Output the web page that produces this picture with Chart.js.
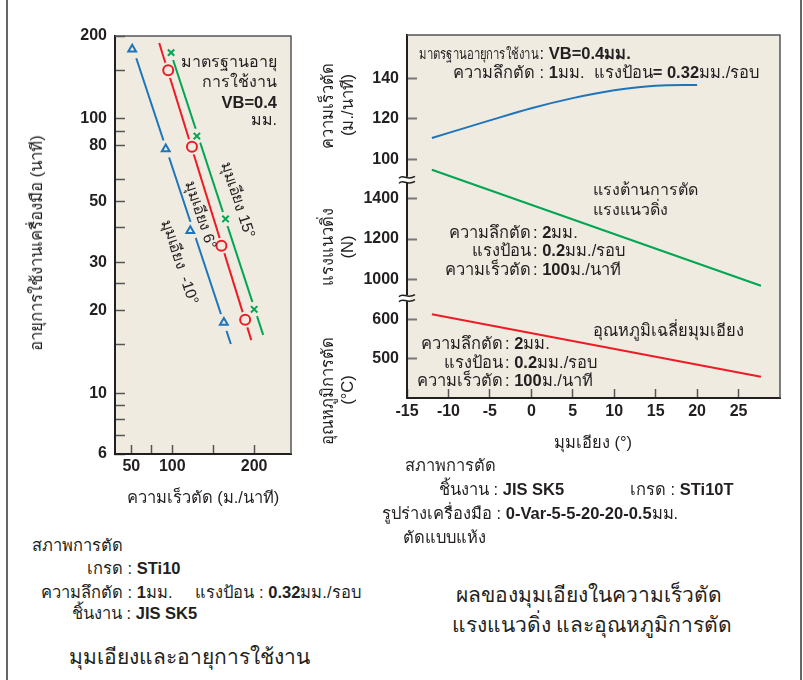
<!DOCTYPE html>
<html>
<head>
<meta charset="utf-8">
<script src="https://cdn.jsdelivr.net/npm/chart.js@4.4.1/dist/chart.umd.min.js"></script>
<style>
body{margin:0;background:#fff;width:803px;height:680px;position:relative;overflow:hidden;font-family:"Liberation Sans",Arial,sans-serif;color:#231f20}
#frame{position:absolute;left:6px;top:0;width:792px;height:680px;border-left:2px solid #666;border-right:2px solid #666}
.box{position:absolute}
.t{position:absolute;white-space:nowrap;font-size:16.5px;line-height:18px;transform:translateY(-50%)}
.c{transform:translate(-50%,-50%)}
.r{transform:translate(-100%,-50%)}
.v{transform:translate(-50%,-50%) rotate(-90deg)}
.s{transform:translate(-50%,-50%) rotate(71.7deg);font-size:15.5px}
.cap{font-size:21px;line-height:26px}
.narrow{display:inline-block;width:116px;font-size:14.5px;transform:scaleX(0.78);transform-origin:left center}
b{font-weight:bold;font-size:16.5px}
</style>
</head>
<body>
<div id="frame"></div>
<canvas id="lifeChart" class="box" width="300" height="510" style="left:0;top:0"></canvas>
<canvas id="rakeChart" class="box" width="500" height="460" style="left:300px;top:0"></canvas>

<!-- left chart texts -->
<div class="t v" style="left:36px;top:243px">อายุการใช้งานเครื่องมือ (นาที)</div>
<div class="t c" style="left:203px;top:497px">ความเร็วตัด (ม./นาที)</div>
<div class="t r" style="left:277px;top:62px;font-size:16px">มาตรฐานอายุ</div>
<div class="t r" style="left:277px;top:82px;font-size:16px">การใช้งาน</div>
<div class="t r" style="left:277px;top:102px"><b>VB=0.4</b></div>
<div class="t r" style="left:277px;top:120px;font-size:16px">มม.</div>
<div class="t s" style="left:238px;top:200px">มุมเอียง 15°</div>
<div class="t s" style="left:201px;top:215px">มุมเอียง 6°</div>
<div class="t s" style="left:180px;top:262px">มุมเอียง&nbsp; -10°</div>

<div class="t" style="left:32px;top:545px">สภาพการตัด</div>
<div class="t" style="left:87px;top:568px">เกรด : <b>STi10</b></div>
<div class="t" style="left:41px;top:592px">ความลึกตัด : <b>1</b>มม.&nbsp;&nbsp;&nbsp;&nbsp; แรงป้อน : <b>0.32</b>มม./รอบ</div>
<div class="t" style="left:72px;top:613px">ชิ้นงาน : <b>JIS SK5</b></div>
<div class="t c cap" style="left:189px;top:657px">มุมเอียงและอายุการใช้งาน</div>

<!-- right chart texts -->
<div class="t v" style="left:327px;top:106px">ความเร็วตัด</div>
<div class="t v" style="left:347px;top:105px">(ม./นาที)</div>
<div class="t v" style="left:327px;top:247px">แรงแนวดิ่ง</div>
<div class="t v" style="left:347px;top:247px">(N)</div>
<div class="t v" style="left:327px;top:391px">อุณหภูมิการตัด</div>
<div class="t v" style="left:347px;top:390px">(°C)</div>

<div class="t" style="left:419px;top:53px"><span class="narrow">มาตรฐานอายุการใช้งาน</span> : <b>VB=0.4มม.</b></div>
<div class="t" style="left:453px;top:72px">ความลึกตัด : <b>1</b>มม.&nbsp; แรงป้อน<b>= 0.32</b>มม./รอบ</div>
<div class="t" style="left:593px;top:190px;font-size:16px">แรงต้านการตัด</div>
<div class="t" style="left:593px;top:210px;font-size:16px">แรงแนวดิ่ง</div>
<div class="t r" style="left:531px;top:232px">ความลึกตัด</div>
<div class="t" style="left:533px;top:232px">: <b>2</b>มม.</div>
<div class="t r" style="left:531px;top:250px">แรงป้อน</div>
<div class="t" style="left:533px;top:250px">: <b>0.2</b>มม./รอบ</div>
<div class="t r" style="left:531px;top:269px">ความเร็วตัด</div>
<div class="t" style="left:533px;top:269px">: <b>100</b>ม./นาที</div>
<div class="t" style="left:593px;top:330px">อุณหภูมิเฉลี่ยมุมเอียง</div>
<div class="t r" style="left:503px;top:343px">ความลึกตัด</div>
<div class="t" style="left:505px;top:343px">: <b>2</b>มม.</div>
<div class="t r" style="left:503px;top:362px">แรงป้อน</div>
<div class="t" style="left:505px;top:362px">: <b>0.2</b>มม./รอบ</div>
<div class="t r" style="left:503px;top:380px">ความเร็วตัด</div>
<div class="t" style="left:505px;top:380px">: <b>100</b>ม./นาที</div>
<div class="t c" style="left:593px;top:442px">มุมเอียง (°)</div>

<div class="t" style="left:405px;top:465px">สภาพการตัด</div>
<div class="t" style="left:439px;top:489px">ชิ้นงาน : <b>JIS SK5</b></div>
<div class="t" style="left:630px;top:489px">เกรด : <b>STi10T</b></div>
<div class="t" style="left:382px;top:513px">รูปร่างเครื่องมือ : <b>0-Var-5-5-20-20-0.5</b>มม.</div>
<div class="t" style="left:403px;top:537px">ตัดแบบแห้ง</div>
<div class="t c cap" style="left:589px;top:595px">ผลของมุมเอียงในความเร็วตัด</div>
<div class="t c cap" style="left:592px;top:625px">แรงแนวดิ่ง และอุณหภูมิการตัด</div>

<script>
// ---- tool life vs cutting speed (left) ----
const speedTicks = [50, 75, 100, 150, 200];
const speedLabels = [50, 100, 200];
const lifeTicks = [6, 7, 8, 9, 10, 15, 20, 25, 30, 40, 50, 60, 80, 90, 100, 150, 200];
const lifeLabels = [6, 10, 20, 30, 50, 80, 100, 200];

// measured points (speed m/min, life min)
const rakeM10Speed = [51, 92, 122, 163];
const rakeM10Life = [179, 77.5, 39, 18.1];
const rake6Speed = [95, 124, 160, 189];
const rake6Life = [150, 79, 34.4, 18.5];
const rake15Speed = [98.5, 130, 165, 200];
const rake15Life = [174, 86.4, 43.1, 20.2];

// fitted lines, end points
const fitM10Speed = [56, 171.5];
const fitM10Life = [166, 15.1];
const fit6Speed = [84, 196.5];
const fit6Life = [188.6, 15.6];
const fit15Speed = [101, 211];
const fit15Life = [163.5, 16.3];

// ---- effect of rake angle (right) ----
const rakeTicks = [-15, -10, -5, 0, 5, 10, 15, 20, 25];
const speedAxisTicks = [100, 120, 140];
const forceAxisTicks = [1000, 1200, 1400];
const tempAxisTicks = [500, 600];

const speedAngle = [-12, -5, 0, 5, 10, 15, 20];
const cuttingSpeed = [110.5, 119.2, 125.2, 130.2, 134.1, 136.3, 136.7];
const forceAngle = [-12, 27.7];
const principalForce = [1545, 968];
const tempAngle = [-12, 27.7];
const cuttingTemp = [612.6, 455.4];

const BLUE = '#1c75bc', RED = '#ed1c24', GREEN = '#00a651';
const BEIGE = '#efebe1', INK = '#231f20';
const tickFont = {family: '"Liberation Sans", Arial, sans-serif', size: 16, weight: 'bold'};

const pts = (xs, ys) => xs.map((x, i) => ({x, y: ys[i]}));

const plotBox = {
    id: 'plotBox',
    beforeDraw(chart) {
        const a = chart.chartArea, ctx = chart.ctx;
        ctx.save();
        ctx.fillStyle = BEIGE;
        ctx.fillRect(a.left, a.top, a.right - a.left, a.bottom - a.top);
        ctx.restore();
    },
    afterDraw(chart) {
        const a = chart.chartArea, ctx = chart.ctx;
        ctx.save();
        ctx.strokeStyle = '#555';
        ctx.lineWidth = 1.5;
        ctx.beginPath();
        ctx.moveTo(a.left, a.top);
        ctx.lineTo(a.right, a.top);
        ctx.lineTo(a.right, a.bottom);
        ctx.stroke();
        ctx.restore();
    }
};

function fixTicks(list) {
    return scale => { scale.ticks = list.map(v => ({value: v})); };
}

function lineSet(xs, ys, color, order) {
    return {data: pts(xs, ys), borderColor: color, borderWidth: 2, pointRadius: 0, order, clip: false};
}
function haloSet(xs, ys, r, order) {
    return {data: pts(xs, ys), showLine: false, pointRadius: r, pointStyle: 'circle',
        pointBackgroundColor: BEIGE, pointBorderWidth: 0, order};
}
function markSet(xs, ys, color, style, r) {
    return {data: pts(xs, ys), showLine: false, pointStyle: style, pointRadius: r,
        pointBorderColor: color, pointBackgroundColor: BEIGE, pointBorderWidth: 2, order: 0};
}

new Chart(document.getElementById('lifeChart'), {
    type: 'line',
    data: {
        datasets: [
            lineSet(fitM10Speed, fitM10Life, BLUE, 9),
            haloSet(rakeM10Speed, rakeM10Life, 9, 8),
            lineSet(fit6Speed, fit6Life, RED, 7),
            haloSet(rake6Speed, rake6Life, 8, 6),
            lineSet(fit15Speed, fit15Life, GREEN, 5),
            haloSet(rake15Speed, rake15Life, 7.5, 4),
            markSet(rakeM10Speed, rakeM10Life, BLUE, 'triangle', 4.5),
            markSet(rake6Speed, rake6Life, RED, 'circle', 5),
            markSet(rake15Speed, rake15Life, GREEN, 'crossRot', 4.5)
        ]
    },
    options: {
        responsive: false,
        animation: false,
        layout: {padding: {top: 36, right: 7, left: 0, bottom: 0}},
        plugins: {legend: {display: false}, tooltip: {enabled: false}},
        scales: {
            x: {
                type: 'linear', min: 30, max: 245,
                afterFit: s => { s.height = 56; },
                afterBuildTicks: fixTicks(speedTicks),
                grid: {drawOnChartArea: false, tickLength: -9, tickColor: '#555', tickWidth: 1.5},
                border: {color: INK, width: 2},
                ticks: {font: tickFont, color: INK, padding: 12, autoSkip: false, maxRotation: 0,
                    callback: v => speedLabels.includes(v) ? String(v) : ''}
            },
            y: {
                type: 'logarithmic', min: 6, max: 200,
                afterFit: s => { s.width = 115; },
                afterBuildTicks: fixTicks(lifeTicks),
                grid: {drawOnChartArea: false, tickLength: -10, tickColor: '#555', tickWidth: 1.5},
                border: {color: INK, width: 2},
                ticks: {font: tickFont, color: INK, padding: 18, autoSkip: false,
                    callback: v => lifeLabels.includes(v) ? String(v) : ''}
            }
        }
    },
    plugins: [plotBox]
});

const axisBreaks = {
    id: 'axisBreaks',
    afterDraw(chart) {
        const ctx = chart.ctx, x = chart.chartArea.left;
        [chart.scales.ySpeed.bottom, chart.scales.yForce.bottom].forEach(y => {
            ctx.save();
            ctx.fillStyle = '#fff';
            ctx.fillRect(x - 3, y - 3, 6, 6);
            ctx.strokeStyle = INK;
            ctx.lineWidth = 1.5;
            [-2.5, 2.5].forEach(dy => {
                ctx.beginPath();
                ctx.moveTo(x - 8, y + dy + 1);
                ctx.bezierCurveTo(x - 4, y + dy - 4, x, y + dy + 4, x + 8, y + dy - 1);
                ctx.stroke();
            });
            ctx.restore();
        });
    }
};

function yAxis(min, max, weight, list) {
    return {
        type: 'linear', position: 'left', stack: 'rake', stackWeight: weight, min, max,
        afterFit: s => { s.width = 107; },
        afterBuildTicks: fixTicks(list),
        grid: {drawOnChartArea: false, tickLength: -10, tickColor: '#777', tickWidth: 2},
        border: {color: INK, width: 2},
        ticks: {font: tickFont, color: INK, padding: 18, autoSkip: false, callback: v => String(v)}
    };
}

new Chart(document.getElementById('rakeChart'), {
    type: 'line',
    data: {
        datasets: [
            {data: pts(speedAngle, cuttingSpeed), yAxisID: 'ySpeed', borderColor: BLUE, borderWidth: 2,
                pointRadius: 0, cubicInterpolationMode: 'monotone', clip: false},
            {data: pts(forceAngle, principalForce), yAxisID: 'yForce', borderColor: GREEN, borderWidth: 2,
                pointRadius: 0, clip: false},
            {data: pts(tempAngle, cuttingTemp), yAxisID: 'yTemp', borderColor: RED, borderWidth: 2,
                pointRadius: 0, clip: false}
        ]
    },
    options: {
        responsive: false,
        animation: false,
        layout: {padding: {top: 35, right: 20, left: 0, bottom: 0}},
        plugins: {legend: {display: false}, tooltip: {enabled: false}},
        scales: {
            x: {
                type: 'linear', min: -15, max: 30,
                afterFit: s => { s.height = 62; },
                afterBuildTicks: fixTicks(rakeTicks),
                grid: {drawOnChartArea: false, tickLength: -9, tickColor: '#555', tickWidth: 1.5},
                border: {color: INK, width: 2},
                ticks: {font: tickFont, color: INK, padding: 13, autoSkip: false, maxRotation: 0}
            },
            yTemp: yAxis(401.8, 653.1, 99.7, tempAxisTicks),
            yForce: yAxis(905.9, 1494.6, 118.2, forceAxisTicks),
            ySpeed: yAxis(89.8, 161.4, 144.7, speedAxisTicks)
        }
    },
    plugins: [plotBox, axisBreaks]
});
</script>
</body>
</html>
